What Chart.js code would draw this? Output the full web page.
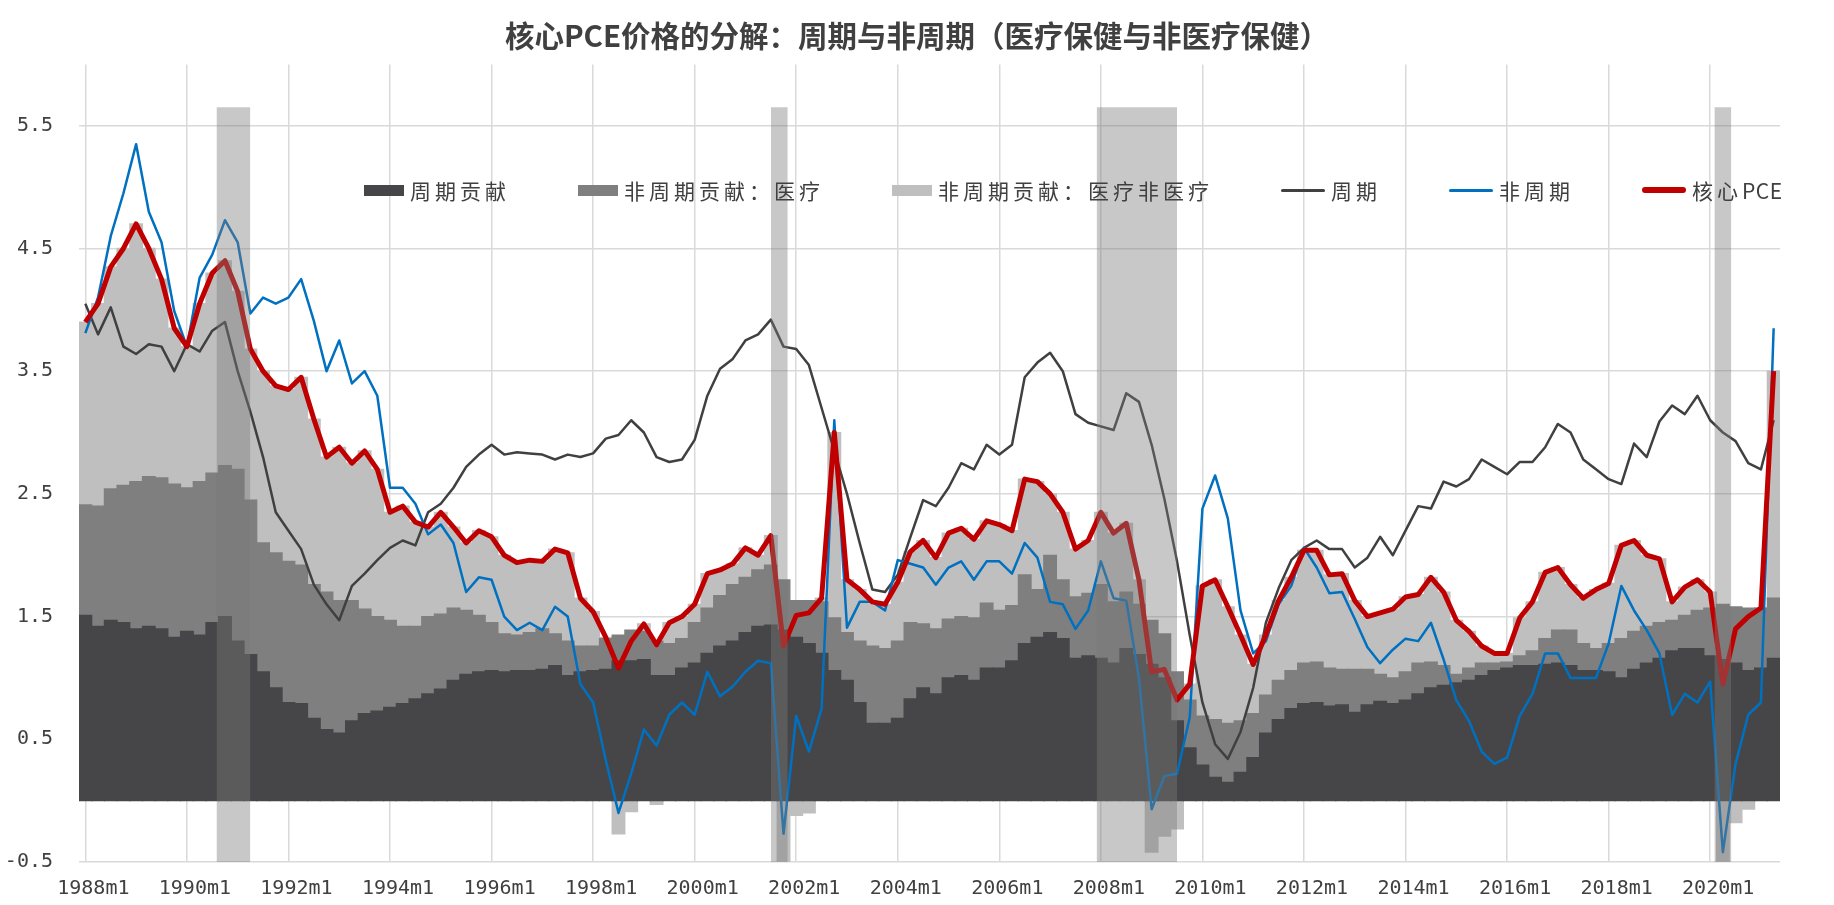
<!DOCTYPE html>
<html lang="zh-CN">
<head>
<meta charset="utf-8">
<title>核心PCE价格的分解</title>
<script src="https://cdn.jsdelivr.net/npm/chart.js@4.4.1/dist/chart.umd.min.js"></script>
<style>
  html, body { margin: 0; padding: 0; background: #fff; }
  #wrap { position: relative; width: 1834px; height: 905px; }
  #legend {
    position: absolute; left: 364px; top: 176px; height: 28px;
    display: flex; align-items: center; gap: 68px;
    font-family: "Noto Sans CJK SC", sans-serif; font-size: 21px;
    letter-spacing: 4px; color: #404040;
  }
  #legend .item { display: flex; align-items: center; white-space: nowrap; }
  #legend .mark { margin-right: 6px; }
  #legend .latin { letter-spacing: 0.5px; }
</style>
</head>
<body>
<div id="wrap">
  <canvas id="chart"></canvas>
  <div id="legend"></div>
</div>
<script>
// quarterly samples, 1988m1 .. 2021m4 (values in %)
const quarters = [];
for (let m = 0; m < 402; m += 3) {
  quarters.push((1988 + Math.floor(m / 12)) + 'm' + (m % 12 + 1));
}

const xTickLabels = ['1988m1', '1990m1', '1992m1', '1994m1', '1996m1', '1998m1', '2000m1', '2002m1', '2004m1',
  '2006m1', '2008m1', '2010m1', '2012m1', '2014m1', '2016m1', '2018m1', '2020m1'];
const yTicks = [-0.5, 0.5, 1.5, 2.5, 3.5, 4.5, 5.5];

// 周期贡献
const cycContrib = [
  1.51, 1.42, 1.47, 1.45, 1.40, 1.42, 1.40, 1.33, 1.38, 1.35, 1.45, 1.50, 1.30, 1.19, 1.05, 0.92,
  0.80, 0.79, 0.67, 0.58, 0.55, 0.65, 0.71, 0.73, 0.76, 0.79, 0.83, 0.87, 0.91, 0.98, 1.03, 1.05,
  1.06, 1.05, 1.06, 1.06, 1.07, 1.10, 1.02, 1.05, 1.06, 1.07, 1.14, 1.14, 1.15, 1.02, 1.02, 1.08,
  1.12, 1.20, 1.26, 1.30, 1.37, 1.42, 1.43, 1.39, 1.33, 1.28, 1.20, 1.06, 0.98, 0.80, 0.63, 0.63,
  0.67, 0.83, 0.92, 0.87, 1.00, 1.02, 0.98, 1.08, 1.08, 1.14, 1.28, 1.33, 1.37, 1.32, 1.16, 1.18,
  1.16, 1.12, 1.24, 1.19, 1.11, 1.00, 0.65, 0.43, 0.29, 0.19, 0.15, 0.23, 0.35, 0.55, 0.66, 0.75,
  0.79, 0.80, 0.77, 0.78, 0.72, 0.78, 0.81, 0.79, 0.82, 0.87, 0.92, 0.94, 0.96, 0.98, 1.02, 1.06,
  1.08, 1.10, 1.10, 1.11, 1.12, 1.10, 1.06, 1.06, 1.05, 1.00, 1.07, 1.12, 1.16, 1.22, 1.24, 1.24,
  1.18, 1.15, 1.12, 1.06, 1.08, 1.16
];

// 非周期贡献：医疗
const healthContrib = [
  0.90, 0.98, 1.07, 1.12, 1.20, 1.22, 1.23, 1.25, 1.17, 1.25, 1.22, 1.23, 1.40, 1.26, 1.05, 1.10,
  1.15, 1.13, 1.09, 1.12, 1.08, 0.98, 0.85, 0.77, 0.71, 0.63, 0.59, 0.63, 0.61, 0.59, 0.52, 0.46,
  0.39, 0.31, 0.29, 0.31, 0.33, 0.26, 0.28, 0.21, 0.20, 0.25, 0.21, 0.25, 0.23, 0.28, 0.26, 0.24,
  0.33, 0.37, 0.41, 0.46, 0.45, 0.46, 0.49, 0.41, 0.30, 0.35, 0.42, 0.43, 0.39, 0.50, 0.63, 0.61,
  0.63, 0.62, 0.52, 0.53, 0.48, 0.48, 0.51, 0.53, 0.47, 0.45, 0.56, 0.39, 0.63, 0.48, 0.50, 0.51,
  0.60, 0.50, 0.46, 0.41, 0.36, 0.36, 0.40, 0.39, 0.40, 0.47, 0.48, 0.42, 0.36, 0.31, 0.32, 0.31,
  0.33, 0.33, 0.31, 0.29, 0.35, 0.29, 0.22, 0.21, 0.23, 0.25, 0.21, 0.16, 0.07, 0.10, 0.10, 0.06,
  0.05, 0.08, 0.12, 0.21, 0.27, 0.29, 0.22, 0.18, 0.23, 0.32, 0.31, 0.30, 0.29, 0.25, 0.27, 0.31,
  0.39, 0.45, 0.46, 0.51, 0.49, 0.49
];

// 非周期贡献：医疗非医疗
const otherContrib = [
  1.49, 1.65, 1.81, 1.93, 2.10, 1.86, 1.62, 1.27, 1.15, 1.45, 1.63, 1.67, 1.45, 1.23, 1.40, 1.36,
  1.40, 1.53, 1.35, 1.10, 1.25, 1.12, 1.29, 1.20, 0.88, 0.98, 0.85, 0.73, 0.83, 0.66, 0.55, 0.69,
  0.70, 0.64, 0.59, 0.59, 0.55, 0.69, 0.72, 0.39, 0.28, 0.01, -0.27, -0.09, 0.06, -0.03, 0.17, 0.18,
  0.15, 0.28, 0.21, 0.17, 0.24, 0.12, 0.24, -0.54, -0.12, -0.10, 0.03, 1.51, 0.43, 0.42, 0.36, 0.36,
  0.48, 0.58, 0.68, 0.58, 0.70, 0.72, 0.64, 0.67, 0.70, 0.61, 0.78, 0.88, 0.50, 0.55, 0.39, 0.43,
  0.59, 0.56, 0.56, 0.20, -0.42, -0.29, -0.23, 0.13, 1.06, 1.14, 0.95, 0.70, 0.40, 0.49, 0.65, 0.76,
  0.92, 0.91, 0.76, 0.78, 0.56, 0.43, 0.50, 0.56, 0.61, 0.56, 0.69, 0.60, 0.44, 0.30, 0.14, 0.08,
  0.07, 0.31, 0.40, 0.54, 0.51, 0.37, 0.37, 0.48, 0.49, 0.76, 0.74, 0.58, 0.52, 0.15, 0.23, 0.25,
  0.13, -0.65, -0.18, -0.07, 0.00, 1.85
];

// 周期
const cyclical = [
  4.05, 3.80, 4.02, 3.70, 3.64, 3.72, 3.70, 3.50, 3.72, 3.66, 3.83, 3.90, 3.50, 3.17, 2.80, 2.35,
  2.20, 2.05, 1.76, 1.60, 1.47, 1.75, 1.85, 1.96, 2.06, 2.12, 2.08, 2.35, 2.42, 2.55, 2.72, 2.82,
  2.90, 2.82, 2.84, 2.83, 2.82, 2.78, 2.82, 2.80, 2.83, 2.95, 2.98, 3.10, 3.00, 2.80, 2.76, 2.78,
  2.94, 3.30, 3.52, 3.60, 3.75, 3.80, 3.92, 3.70, 3.68, 3.55, 3.20, 2.85, 2.50, 2.10, 1.72, 1.70,
  1.84, 2.15, 2.45, 2.40, 2.55, 2.75, 2.70, 2.90, 2.82, 2.90, 3.45, 3.57, 3.65, 3.50, 3.15, 3.08,
  3.05, 3.02, 3.32, 3.25, 2.90, 2.46, 1.95, 1.35, 0.80, 0.46, 0.34, 0.56, 0.92, 1.45, 1.73, 1.96,
  2.06, 2.12, 2.05, 2.05, 1.90, 1.98, 2.15, 2.00, 2.20, 2.40, 2.38, 2.60, 2.56, 2.62, 2.78, 2.72,
  2.66, 2.76, 2.76, 2.88, 3.07, 3.00, 2.78, 2.70, 2.62, 2.58, 2.91, 2.80, 3.09, 3.22, 3.15, 3.30,
  3.10, 3.00, 2.93, 2.75, 2.70, 3.10
];

// 非周期
const acyclical = [
  3.81, 4.10, 4.60, 4.95, 5.35, 4.80, 4.55, 3.99, 3.70, 4.26, 4.45, 4.73, 4.55, 3.97, 4.10, 4.05,
  4.10, 4.25, 3.91, 3.50, 3.75, 3.40, 3.50, 3.30, 2.55, 2.55, 2.42, 2.17, 2.25, 2.10, 1.70, 1.82,
  1.80, 1.50, 1.39, 1.45, 1.39, 1.58, 1.50, 0.95, 0.80, 0.33, -0.10, 0.22, 0.58, 0.45, 0.70, 0.80,
  0.70, 1.05, 0.85, 0.93, 1.05, 1.14, 1.12, -0.27, 0.69, 0.40, 0.75, 3.10, 1.41, 1.62, 1.62, 1.55,
  1.96, 1.93, 1.90, 1.76, 1.90, 1.95, 1.80, 1.95, 1.95, 1.85, 2.10, 1.98, 1.62, 1.60, 1.40, 1.55,
  1.95, 1.65, 1.63, 1.00, -0.07, 0.20, 0.22, 0.68, 2.38, 2.65, 2.30, 1.55, 1.20, 1.30, 1.60, 1.75,
  2.06, 1.90, 1.69, 1.70, 1.48, 1.25, 1.12, 1.23, 1.32, 1.30, 1.45, 1.15, 0.82, 0.65, 0.40, 0.30,
  0.35, 0.69, 0.87, 1.20, 1.20, 1.00, 1.00, 1.00, 1.28, 1.75, 1.55, 1.39, 1.20, 0.70, 0.87, 0.80,
  0.97, -0.42, 0.30, 0.70, 0.80, 3.85
];

// 核心PCE
const corePce = [
  3.90, 4.05, 4.35, 4.50, 4.70, 4.50, 4.25, 3.85, 3.70, 4.05, 4.30, 4.40, 4.15, 3.68, 3.50, 3.38,
  3.35, 3.45, 3.11, 2.80, 2.88, 2.75, 2.85, 2.70, 2.35, 2.40, 2.27, 2.23, 2.35, 2.23, 2.10, 2.20,
  2.15, 2.00, 1.94, 1.96, 1.95, 2.05, 2.02, 1.65, 1.54, 1.33, 1.08, 1.30, 1.44, 1.27, 1.45, 1.50,
  1.60, 1.85, 1.88, 1.93, 2.06, 2.00, 2.16, 1.26, 1.51, 1.53, 1.65, 3.00, 1.80, 1.72, 1.62, 1.60,
  1.78, 2.03, 2.12, 1.98, 2.18, 2.22, 2.13, 2.28, 2.25, 2.20, 2.62, 2.60, 2.50, 2.35, 2.05, 2.12,
  2.35, 2.18, 2.26, 1.80, 1.05, 1.07, 0.82, 0.95, 1.75, 1.80, 1.58, 1.35, 1.11, 1.35, 1.63, 1.82,
  2.04, 2.04, 1.84, 1.85, 1.63, 1.50, 1.53, 1.56, 1.66, 1.68, 1.82, 1.70, 1.47, 1.38, 1.26, 1.20,
  1.20, 1.49, 1.62, 1.86, 1.90, 1.76, 1.65, 1.72, 1.77, 2.08, 2.12, 2.00, 1.97, 1.62, 1.74, 1.80,
  1.70, 0.95, 1.40, 1.50, 1.57, 3.50
];

// recessions, months counted from 1988m1 (end exclusive)
const recStart = [31, 162, 239, 385];
const recEnd = [39, 166, 258, 389];
const recLow = -0.5;
const recTop = 5.65;

// shaded blocks: a flat top line per recession, filled down to recLow
const recLine = [];
recStart.forEach((s, k) => {
  recLine.push({ x: s, y: recTop }, { x: recEnd[k], y: recTop }, { x: recEnd[k], y: null });
});

const tickFont = { family: 'DejaVu Sans Mono', size: 20 };

const chart = new Chart(document.getElementById('chart'), {
  type: 'bar',
  data: {
    labels: quarters,
    datasets: [
      { label: '周期贡献', data: cycContrib, backgroundColor: '#464648', stack: 'pce', order: 4 },
      { label: '非周期贡献：医疗', data: healthContrib, backgroundColor: '#7f7f7f', stack: 'pce', order: 4 },
      { label: '非周期贡献：医疗非医疗', data: otherContrib, backgroundColor: '#bfbfbf', stack: 'pce', order: 4 },
      { type: 'line', label: '周期', data: cyclical, borderColor: '#404040', borderWidth: 2.5,
        pointRadius: 0, stack: 'l1', order: 3 },
      { type: 'line', label: '非周期', data: acyclical, borderColor: '#0070c0', borderWidth: 2.5,
        pointRadius: 0, stack: 'l2', order: 2 },
      { type: 'line', label: '核心PCE', data: corePce, borderColor: '#c00000', borderWidth: 5,
        pointRadius: 0, stack: 'l3', order: 1 },
      { type: 'line', label: 'recession', data: recLine, xAxisID: 'x2', stack: 'rec', order: 0,
        borderWidth: 0, borderColor: 'transparent', pointRadius: 0, spanGaps: false,
        backgroundColor: 'rgba(122,122,122,0.41)', fill: { value: recLow } }
    ]
  },
  options: {
    responsive: true,
    maintainAspectRatio: false,
    animation: false,
    layout: { padding: 0 },
    datasets: {
      bar: { barPercentage: 1, categoryPercentage: 1, grouped: false, borderWidth: 0, inflateAmount: 0.6 }
    },
    elements: { line: { tension: 0, borderJoinStyle: 'round' } },
    plugins: {
      legend: { display: false },
      tooltip: { enabled: false },
      title: {
        display: true,
        text: '核心PCE价格的分解：周期与非周期（医疗保健与非医疗保健）',
        color: '#404040',
        font: { family: 'Noto Sans CJK SC', size: 29.5, weight: 'bold' },
        padding: { top: 18, bottom: 11 }
      }
    },
    scales: {
      x: {
        stacked: true,
        offset: true,
        afterFit: s => { s.height = 43; },
        grid: { offset: false, color: '#d9d9d9', lineWidth: 1.5, drawTicks: false },
        border: { display: false },
        ticks: {
          autoSkip: false, maxRotation: 0, padding: 15, labelOffset: 8,
          color: '#404040', font: tickFont,
          callback: function (v) {
            const l = this.getLabelForValue(v);
            return xTickLabels.includes(l) ? l : null;
          }
        }
      },
      x2: {
        type: 'linear', position: 'bottom', display: false,
        min: -1.5, max: 400.5, offset: false, grid: { display: false }
      },
      y: {
        stacked: true,
        min: -0.5,
        max: 6,
        afterBuildTicks: s => { s.ticks = yTicks.map(v => ({ value: v })); },
        afterFit: s => { s.width = 79; },
        grid: { color: '#d9d9d9', lineWidth: 1.5, drawTicks: false },
        border: { display: false },
        ticks: { padding: 26, color: '#404040', font: tickFont, callback: v => v.toFixed(1) }
      },
      // empty right-hand margin so the title stays centred on the page
      yRight: {
        position: 'right',
        afterFit: s => { s.width = 54; },
        grid: { display: false },
        border: { display: false },
        ticks: { display: false }
      }
    }
  }
});

// legend drawn as html, items taken from the chart datasets
const legendEl = document.getElementById('legend');
chart.data.datasets.filter(d => d.stack !== 'rec').forEach(d => {
  const item = document.createElement('div');
  item.className = 'item';
  const mark = document.createElement('span');
  mark.className = 'mark';
  if (d.type === 'line') {
    mark.style.cssText = `display:inline-block;width:44px;height:${d.borderWidth > 3 ? 6 : 3}px;` +
      `border-radius:3px;background:${d.borderColor}`;
  } else {
    mark.style.cssText = `display:inline-block;width:40px;height:11px;background:${d.backgroundColor}`;
  }
  const txt = document.createElement('span');
  d.label.split(/([A-Za-z]+)/).forEach(part => {
    if (!part) return;
    const s = document.createElement('span');
    if (/^[A-Za-z]+$/.test(part)) s.className = 'latin';
    s.textContent = part;
    txt.appendChild(s);
  });
  item.appendChild(mark);
  item.appendChild(txt);
  legendEl.appendChild(item);
});
</script>
</body>
</html>
